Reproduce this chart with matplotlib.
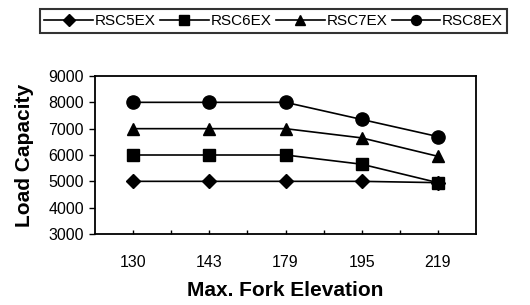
import matplotlib
matplotlib.use("Agg")
import matplotlib.pyplot as plt
import numpy as np

plt.rcParams['font.family'] = ['Liberation Sans', 'DejaVu Sans']

categories = ["130", "143", "179", "195", "219"]
series_names = ["RSC5EX", "RSC6EX", "RSC7EX", "RSC8EX"]
rsc5ex = [5000, 5000, 5000, 5000, 4950]
rsc6ex = [6000, 6000, 6000, 5650, 4950]
rsc7ex = [7000, 7000, 7000, 6650, 5950]
rsc8ex = [8000, 8000, 8000, 7350, 6700]
y_ticks = [3000, 4000, 5000, 6000, 7000, 8000, 9000]

series = [rsc5ex, rsc6ex, rsc7ex, rsc8ex]
markers = ['D', 's', '^', 'o']
msizes = [7.5, 9, 9, 9.5]

fig = plt.figure(figsize=(5.3, 3.05), dpi=100)
ax = fig.add_axes([95/530, 1-234/305, (476-95)/530, (234-76)/305])

x = np.arange(len(categories))
handles = []
for name, vals, m, ms in zip(series_names, series, markers, msizes):
    h, = ax.plot(x, vals, color='black', lw=1.2, marker=m, markersize=ms,
                 markerfacecolor='black', markeredgecolor='black', label=name)
    handles.append(h)

ax.set_xlim(-0.5, len(categories) - 0.5)
ax.set_ylim(3000, 9000)
ax.set_yticks(y_ticks)
ax.set_yticklabels([str(v) for v in y_ticks], fontsize=11.5)
ax.set_xticks(x)
ax.set_xticklabels(categories, fontsize=11.5)
ax.set_xticks(np.arange(0.5, len(categories) - 0.5, 1), minor=True)
ax.tick_params(axis='x', which='both', direction='in', length=3, width=1, pad=15)
ax.tick_params(axis='y', direction='out', length=4, width=1, pad=4)
for s in ax.spines.values():
    s.set_linewidth(1.3)
    s.set_color('black')

ax.set_ylabel("Load Capacity", fontsize=15, fontweight='bold', labelpad=10)
ax.set_xlabel("Max. Fork Elevation", fontsize=15, fontweight='bold', labelpad=8)

leg = fig.legend(handles=handles, labels=series_names, ncol=4,
                 loc='center', bbox_to_anchor=(273.5/530, 1-21/305),
                 fontsize=11, frameon=True, fancybox=False, edgecolor='black',
                 handlelength=3.2, handletextpad=0.1, columnspacing=0.3,
                 borderpad=0.3, markerscale=0.75)
leg.get_frame().set_linewidth(1.5)

fig.savefig("out.png", dpi=100)
